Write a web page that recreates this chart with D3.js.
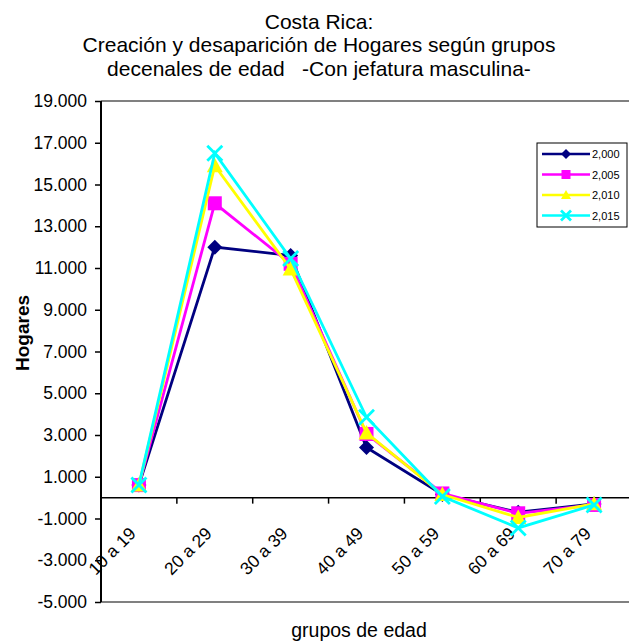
<!DOCTYPE html>
<html>
<head>
<meta charset="utf-8">
<script src="https://cdn.jsdelivr.net/npm/d3@7"></script>
<style>
  html, body { margin: 0; padding: 0; background: #fff; }
  svg { display: block; font-family: "Liberation Sans", Arial, sans-serif; }
</style>
</head>
<body>
<svg id="chart" width="629" height="643"></svg>
<script>
// Age groups (x categories)
const categories = ["10 a 19", "20 a 29", "30 a 39", "40 a 49", "50 a 59", "60 a 69", "70 a 79"];

// Households created / lost per age group, male-headed, by year
const years = ["2,000", "2,005", "2,010", "2,015"];
const values2000 = [600, 12000, 11600, 2400, 150, -700, -300];
const values2005 = [600, 14100, 11200, 3050, 200, -750, -350];
const values2010 = [600, 15900, 10950, 3100, 150, -950, -300];
const values2015 = [600, 16500, 11450, 3850, 50, -1450, -350];

// Y axis tick values
const yTicks = [19000, 17000, 15000, 13000, 11000, 9000, 7000, 5000, 3000, 1000, -1000, -3000, -5000];

const titleLines = ["Costa Rica:", "Creación y desaparición de Hogares según grupos", "decenales de edad   -Con jefatura masculina-"];

const series = [
  { name: years[0], values: values2000, color: "#000080", marker: "diamond" },
  { name: years[1], values: values2005, color: "#FF00FF", marker: "square" },
  { name: years[2], values: values2010, color: "#FFFF00", marker: "triangle" },
  { name: years[3], values: values2015, color: "#00FFFF", marker: "cross" }
];

const svg = d3.select("#chart");
const plot = { left: 101, right: 632, top: 101, bottom: 602 };

const x = d3.scaleBand().domain(categories).range([plot.left, plot.right]).padding(0);
const y = d3.scaleLinear().domain([-5000, 19000]).range([plot.bottom, plot.top]);

const locale = d3.formatLocale({ decimal: ",", thousands: ".", grouping: [3], currency: ["", ""], minus: "-" });
const fmt = locale.format(",");

// Title
svg.append("g").selectAll("text").data(titleLines).join("text")
  .attr("x", 319)
  .attr("y", (d, i) => 28.5 + i * 23.5)
  .attr("text-anchor", "middle")
  .attr("font-size", "21px")
  .attr("fill", "#000")
  .style("white-space", "pre")
  .text(d => d);

// Plot area frame (top / bottom in gray)
svg.append("line").attr("x1", plot.left).attr("x2", plot.right)
  .attr("y1", plot.top).attr("y2", plot.top).attr("stroke", "#808080").attr("stroke-width", 2);
svg.append("line").attr("x1", plot.left).attr("x2", plot.right)
  .attr("y1", plot.bottom).attr("y2", plot.bottom).attr("stroke", "#808080").attr("stroke-width", 2);

// Y axis
const yAxis = svg.append("g")
  .attr("transform", `translate(${plot.left},0)`)
  .call(d3.axisLeft(y).tickValues(yTicks).tickFormat(fmt).tickSize(6).tickPadding(8));
yAxis.select(".domain").attr("stroke", "#000").attr("stroke-width", 2).attr("d", `M0,${plot.top}V${plot.bottom}`);
yAxis.selectAll(".tick line").attr("stroke", "#000").attr("stroke-width", 1.5);
yAxis.selectAll(".tick text").attr("font-size", "17.5px").attr("fill", "#000")
  .attr("font-family", "'Liberation Sans', Arial, sans-serif");

// X axis along zero, ticks between categories
const xAxisG = svg.append("g").attr("transform", `translate(0,${y(0)})`);
xAxisG.append("line").attr("x1", plot.left).attr("x2", plot.right)
  .attr("y1", 0).attr("y2", 0).attr("stroke", "#000").attr("stroke-width", 1.5);
xAxisG.selectAll("line.tick").data(categories).join("line")
  .attr("class", "tick")
  .attr("x1", d => x(d) + x.bandwidth()).attr("x2", d => x(d) + x.bandwidth())
  .attr("y1", 0).attr("y2", 6).attr("stroke", "#000").attr("stroke-width", 1.5);
xAxisG.selectAll("text").data(categories).join("text")
  .attr("transform", d => `translate(${x(d) + x.bandwidth() / 2 - 2},${37}) rotate(-45)`)
  .attr("text-anchor", "end")
  .attr("font-size", "17.5px")
  .attr("fill", "#000")
  .text(d => d);

// Axis titles
svg.append("text")
  .attr("transform", `translate(29,333) rotate(-90)`)
  .attr("text-anchor", "middle")
  .attr("font-size", "19px")
  .attr("font-weight", "bold")
  .text("Hogares");
svg.append("text")
  .attr("x", 359).attr("y", 637)
  .attr("text-anchor", "middle")
  .attr("font-size", "19.5px")
  .text("grupos de edad");

// Marker drawing
function drawMarker(g, type, color, size) {
  if (type === "diamond") {
    const r = size / 2;
    g.append("path").attr("d", `M0,${-r}L${r},0L0,${r}L${-r},0Z`).attr("fill", color);
  } else if (type === "square") {
    g.append("rect").attr("x", -size / 2).attr("y", -size / 2).attr("width", size).attr("height", size).attr("fill", color);
  } else if (type === "triangle") {
    const w = size / 2, h = size * 0.9;
    g.append("path").attr("d", `M0,${-h * 0.55}L${w},${h * 0.45}L${-w},${h * 0.45}Z`).attr("fill", color);
  } else {
    const r = size / 2;
    g.append("path").attr("d", `M${-r},${-r}L${r},${r}M${-r},${r}L${r},${-r}`)
      .attr("stroke", color).attr("stroke-width", 2.8).attr("fill", "none");
  }
}

const markerSize = { diamond: 15, square: 14, triangle: 16, cross: 15 };
const legendMarkerSize = { diamond: 10, square: 9, triangle: 10, cross: 10 };

const line = d3.line()
  .x((d, i) => x(categories[i]) + x.bandwidth() / 2)
  .y(d => y(d));

const seriesG = svg.append("g");
series.forEach(s => {
  const g = seriesG.append("g");
  g.append("path").attr("d", line(s.values)).attr("fill", "none")
    .attr("stroke", s.color).attr("stroke-width", 2.8).attr("stroke-linejoin", "miter");
  s.values.forEach((v, i) => {
    const m = g.append("g").attr("transform", `translate(${x(categories[i]) + x.bandwidth() / 2},${y(v)})`);
    drawMarker(m, s.marker, s.color, markerSize[s.marker]);
  });
});

// Legend
const legend = svg.append("g").attr("transform", "translate(537,143)");
legend.append("rect").attr("x", 0).attr("y", 0).attr("width", 90).attr("height", 84)
  .attr("fill", "#fff").attr("stroke", "#000").attr("stroke-width", 1);
series.forEach((s, i) => {
  const row = legend.append("g").attr("transform", `translate(0,${11 + i * 20.5})`);
  row.append("line").attr("x1", 5).attr("x2", 53).attr("y1", 0).attr("y2", 0)
    .attr("stroke", s.color).attr("stroke-width", 2.6);
  const m = row.append("g").attr("transform", "translate(29,0)");
  drawMarker(m, s.marker, s.color, legendMarkerSize[s.marker]);
  row.append("text").attr("x", 55).attr("y", 4).attr("font-size", "11px").attr("fill", "#000").text(s.name);
});
</script>
</body>
</html>
